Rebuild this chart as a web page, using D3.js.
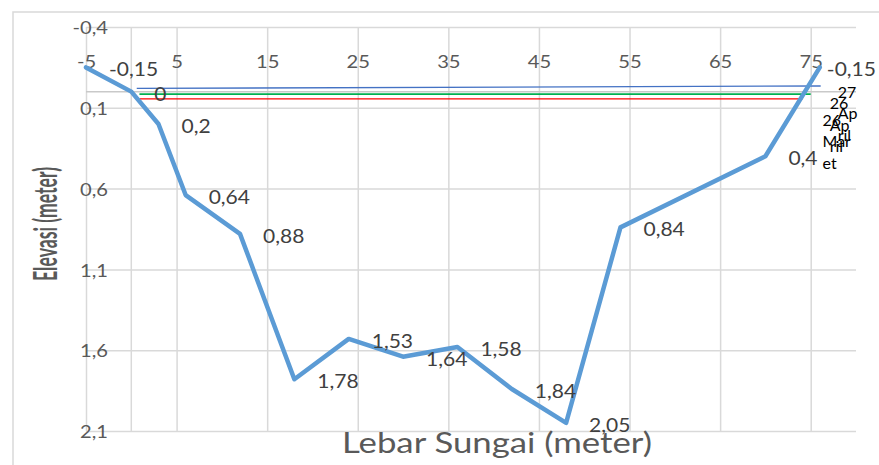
<!DOCTYPE html>
<html><head><meta charset="utf-8">
<script src="https://cdn.jsdelivr.net/npm/d3@7"></script>
<style>
html,body{margin:0;padding:0;background:#fff;}
svg{display:block;font-family:Lato,"Open Sans",sans-serif;}
</style></head><body>
<svg id="chart" width="879" height="465"></svg>
<script>
// Penampang melintang sungai: jarak (m) terhadap elevasi dasar (m)
const jarak   = [-5, 0, 3, 6, 12, 18, 24, 30, 36, 42, 48, 54, 70, 76];
const elevasi = [-0.15, 0, 0.2, 0.64, 0.88, 1.78, 1.53, 1.64, 1.58, 1.84, 2.05, 0.84, 0.4, -0.15];

// Muka air pada tiga tanggal pengukuran (titik awal dan akhir)
const tanggal      = ["27 April", "26 April", "26 Maret"];
const tanggalBaris = [["27", "Ap", "ril"], ["26", "Ap", "ril"], ["26", "Mar", "et"]];
const mukaAirX     = [[0.6, 76.1], [0.9, 75.0], [0.9, 74.1]];
const mukaAirY     = [[-0.02, -0.035], [0.015, 0.015], [0.045, 0.045]];

const xTicks = [-5, 5, 15, 25, 35, 45, 55, 65, 75];
const yTicks = [-0.4, 0.1, 0.6, 1.1, 1.6, 2.1];

// Gaya tampilan
const warnaMukaAir = ["#4472C4", "#00B050", "#FF0000"];
const tebalMukaAir = [1.3, 1.8, 1.3];
const geserNama    = [[17, 12], [19, 15], [20, 27]];
const abu = "#595959";
const grid = "#d9d9d9";

const svg = d3.select("#chart");
const x = d3.scaleLinear().domain([-5, 80]).range([86, 856]);
const y = d3.scaleLinear().domain([-0.4, 2.1]).range([27, 431]);
const koma = v => String(v).replace(".", ",");

function lebarkan(sel, k) {
  sel.each(function () {
    const w = this.getComputedTextLength();
    this.setAttribute("textLength", w * k);
    this.setAttribute("lengthAdjust", "spacingAndGlyphs");
  });
}

// Bingkai area grafik
svg.append("path")
  .attr("d", "M13,465V12H879")
  .attr("fill", "none").attr("stroke", grid).attr("stroke-width", 1.5);

// Garis grid vertikal
const gx = svg.append("g").attr("transform", `translate(0,${y(2.1)})`)
  .call(d3.axisBottom(x).tickValues(xTicks).tickSize(-(y(2.1) - y(-0.4))).tickFormat(""));
gx.select(".domain").remove();
gx.selectAll("line").attr("stroke", grid).attr("stroke-width", 1.5);

// Garis grid horizontal
const gy = svg.append("g").attr("transform", `translate(${x(-5)},0)`)
  .call(d3.axisLeft(y).tickValues(yTicks).tickSize(-(x(80) - x(-5))).tickFormat(""));
gy.select(".domain").remove();
gy.selectAll("line").attr("stroke", grid).attr("stroke-width", 1.5);

// Sumbu nilai (x = 0) dan sumbu kategori (y = 0)
svg.append("line")
  .attr("x1", x(0)).attr("x2", x(0)).attr("y1", y(-0.4)).attr("y2", y(2.1))
  .attr("stroke", grid).attr("stroke-width", 1.5);
svg.append("line")
  .attr("x1", x(-5)).attr("x2", x(80)).attr("y1", y(0)).attr("y2", y(0))
  .attr("stroke", "#c9c9c9").attr("stroke-width", 1.5);

// Label sumbu X (di atas garis y = 0)
const ax = svg.append("g").attr("transform", `translate(0,${y(0) - 24})`)
  .call(d3.axisTop(x).tickValues(xTicks).tickSize(0).tickPadding(0).tickFormat(koma));
ax.select(".domain").remove();
ax.selectAll("text").attr("fill", abu).attr("font-size", 18).attr("font-family", "Lato");
lebarkan(ax.selectAll("text"), 1.12);

// Label sumbu Y
const ay = svg.append("g").attr("transform", `translate(${x(-5) + 22},1)`)
  .call(d3.axisLeft(y).tickValues(yTicks).tickSize(0).tickPadding(0).tickFormat(koma));
ay.select(".domain").remove();
ay.selectAll("text").attr("fill", abu).attr("font-size", 18).attr("font-family", "Lato");
lebarkan(ay.selectAll("text"), 1.12);

// Garis muka air
const garisMuka = d3.line().x(d => x(d[0])).y(d => y(d[1]));
tanggal.forEach((t, i) => {
  const titik = mukaAirX[i].map((v, j) => [v, mukaAirY[i][j]]);
  svg.append("path").attr("d", garisMuka(titik))
    .attr("fill", "none").attr("stroke", warnaMukaAir[i]).attr("stroke-width", tebalMukaAir[i]);
});

// Profil dasar sungai
const idx = d3.range(jarak.length);
svg.append("path")
  .attr("d", d3.line().x(i => x(jarak[i])).y(i => y(elevasi[i]))(idx))
  .attr("fill", "none").attr("stroke", "#5B9BD5").attr("stroke-width", 4.5)
  .attr("stroke-linejoin", "round").attr("stroke-linecap", "round");

// Label nilai elevasi
const lbl = svg.append("g").selectAll("text").data(idx).join("text")
  .attr("x", i => x(jarak[i]) + 23)
  .attr("y", i => y(elevasi[i]) + 1)
  .attr("dominant-baseline", "central")
  .attr("font-size", 20).attr("fill", "#404040")
  .text(i => koma(elevasi[i]));
lebarkan(lbl, 1.05);
lbl.each(function () {
  const w = +this.getAttribute("textLength");
  const x0 = +this.getAttribute("x");
  if (x0 + w > 876) this.setAttribute("x", 876 - w);
});

// Nama seri muka air di ujung kanan garis
tanggal.forEach((t, i) => {
  const ex = x(mukaAirX[i][1]), ey = y(mukaAirY[i][1]);
  const tx = svg.append("text")
    .attr("x", ex + geserNama[i][0]).attr("y", ey + geserNama[i][1])
    .attr("font-size", 16).attr("fill", "#000");
  tx.selectAll("tspan").data(tanggalBaris[i]).join("tspan")
    .attr("x", ex + geserNama[i][0])
    .attr("dy", (d, j) => j === 0 ? 0 : 21.5)
    .text(d => d);
});

// Judul sumbu
svg.append("text")
  .attr("x", 497).attr("y", 453).attr("text-anchor", "middle")
  .attr("font-size", 28).attr("fill", abu)
  .attr("textLength", 310).attr("lengthAdjust", "spacingAndGlyphs")
  .text("Lebar Sungai (meter)");

svg.append("text")
  .attr("transform", "translate(57,224) rotate(-90)")
  .attr("text-anchor", "middle")
  .attr("font-size", 33).attr("font-weight", 700).attr("fill", abu)
  .attr("textLength", 114).attr("lengthAdjust", "spacingAndGlyphs")
  .text("Elevasi (meter)");
</script>
</body></html>
